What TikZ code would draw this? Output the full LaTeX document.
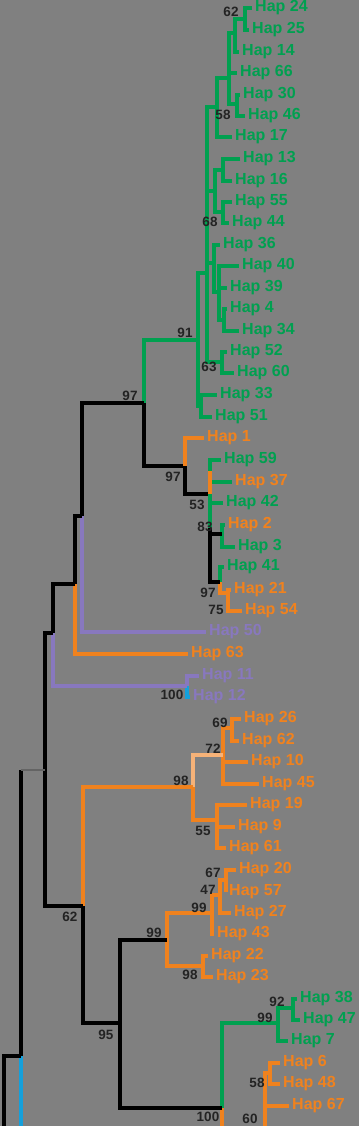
\documentclass[tikz,border=0pt]{standalone}
\usepackage{fontspec}
\setmainfont{Liberation Sans}
\definecolor{bgc}{RGB}{128,128,128}
\definecolor{cg}{RGB}{0,160,80}
\definecolor{co}{RGB}{240,130,30}
\definecolor{clo}{RGB}{246,178,120}
\definecolor{cp}{RGB}{136,120,190}
\definecolor{cb}{RGB}{20,160,220}
\definecolor{cd}{RGB}{35,35,35}
\definecolor{cgr}{RGB}{100,100,100}
\tikzset{
  br/.style={line width=3.4pt},
  gl/.style={br,draw=cg}, ol/.style={br,draw=co}, lol/.style={br,draw=clo},
  pl/.style={br,draw=cp}, bl/.style={br,draw=cb}, kl/.style={br,draw=black},
  lab/.style={anchor=west,inner sep=0pt,font=\fontsize{16}{16}\selectfont\bfseries},
  lg/.style={lab,text=cg}, lo/.style={lab,text=co}, lp/.style={lab,text=cp},
  bs/.style={inner sep=0pt,font=\fontsize{13.5}{13.5}\selectfont\bfseries,text=cd}
}
\newcommand\tedge[3]{\draw[#1] (#2) |- (#3);}
\newcommand\ledge[3]{\draw[#1] (#2) |- ([xshift=-3pt]#3.west);}
\begin{document}
\begin{tikzpicture}[x=1pt,y=-1pt]
\fill[bgc] (0,0) rectangle (359,1126);
\useasboundingbox (0,0) rectangle (359,1126);
% ---------- leaves ----------
\node[lg] (h24) at (255,8) {Hap 24};
\node[lg] (h25) at (252,30) {Hap 25};
\node[lg] (h14) at (242,52) {Hap 14};
\node[lg] (h66) at (240,73) {Hap 66};
\node[lg] (h30) at (243,95) {Hap 30};
\node[lg] (h46) at (248,116) {Hap 46};
\node[lg] (h17) at (235,137) {Hap 17};
\node[lg] (h13) at (243,159) {Hap 13};
\node[lg] (h16) at (235,181) {Hap 16};
\node[lg] (h55) at (235,202) {Hap 55};
\node[lg] (h44) at (232,223) {Hap 44};
\node[lg] (h36) at (223,245) {Hap 36};
\node[lg] (h40) at (242,266) {Hap 40};
\node[lg] (h39) at (230,288) {Hap 39};
\node[lg] (h4) at (230,309) {Hap 4};
\node[lg] (h34) at (242,331) {Hap 34};
\node[lg] (h52) at (230,352) {Hap 52};
\node[lg] (h60) at (237,373) {Hap 60};
\node[lg] (h33) at (220,395) {Hap 33};
\node[lg] (h51) at (215,417) {Hap 51};
\node[lo] (h1) at (207,438) {Hap 1};
\node[lg] (h59) at (224,460) {Hap 59};
\node[lo] (h37) at (235,482) {Hap 37};
\node[lg] (h42) at (226,503) {Hap 42};
\node[lo] (h2) at (228,525) {Hap 2};
\node[lg] (h3) at (238,547) {Hap 3};
\node[lg] (h41) at (227,567) {Hap 41};
\node[lo] (h21) at (234,590) {Hap 21};
\node[lo] (h54) at (245,611) {Hap 54};
\node[lp] (h50) at (209,632) {Hap 50};
\node[lo] (h63) at (191,654) {Hap 63};
\node[lp] (h11) at (202,676) {Hap 11};
\node[lp] (h12) at (193,697) {Hap 12};
\node[lo] (h26) at (244,719) {Hap 26};
\node[lo] (h62) at (242,741) {Hap 62};
\node[lo] (h10) at (251,762) {Hap 10};
\node[lo] (h45) at (262,784) {Hap 45};
\node[lo] (h19) at (250,805) {Hap 19};
\node[lo] (h9) at (238,827) {Hap 9};
\node[lo] (h61) at (229,848) {Hap 61};
\node[lo] (h20) at (239,870) {Hap 20};
\node[lo] (h57) at (229,892) {Hap 57};
\node[lo] (h27) at (234,913) {Hap 27};
\node[lo] (h43) at (217,934) {Hap 43};
\node[lo] (h22) at (211,956) {Hap 22};
\node[lo] (h23) at (216,977) {Hap 23};
\node[lg] (h38) at (300,999) {Hap 38};
\node[lg] (h47) at (303,1020) {Hap 47};
\node[lg] (h7) at (291,1041) {Hap 7};
\node[lo] (h6) at (283,1063) {Hap 6};
\node[lo] (h48) at (283,1084) {Hap 48};
\node[lo] (h67) at (292,1106) {Hap 67};
% ---------- internal nodes ----------
\coordinate (n245) at (245,19);
\coordinate (n235) at (235,33);
\coordinate (n237) at (237,104);
\coordinate (n230) at (229,78);
\coordinate (n217) at (217,107);
\coordinate (n208) at (207,273);
\coordinate (n215) at (215,191);
\coordinate (n223a) at (223,170);
\coordinate (n223b) at (223,212);
\coordinate (m1) at (214,263);
\coordinate (m2) at (219,292);
\coordinate (m3) at (224,320);
\coordinate (n222) at (222,362);
\coordinate (n198) at (198,340);
\coordinate (n201) at (201,406);
\coordinate (n144) at (144,403);
\coordinate (n185) at (185,466);
\coordinate (n210) at (210,494);
\coordinate (nP) at (210,471);
\coordinate (nR) at (210,528);
\coordinate (nQ) at (222,534);
\coordinate (nS) at (220,582);
\coordinate (nT) at (228,593);
\coordinate (n82) at (82,516);
\coordinate (n75) at (75,584);
\coordinate (n53) at (53,633);
\coordinate (n187) at (187,686);
\coordinate (n45) at (45,770);
\coordinate (n83) at (83,906);
\coordinate (n193) at (193,787);
\coordinate (n223) at (223,755);
\coordinate (n232) at (232,728);
\coordinate (n217c) at (217,820);
\coordinate (n120) at (120,1023);
\coordinate (n167) at (167,940);
\coordinate (n212) at (212,913);
\coordinate (n220) at (220,895);
\coordinate (n226) at (226,880);
\coordinate (n203) at (203,966);
\coordinate (n222b) at (222,1108);
\coordinate (o222) at (222,1126);
\coordinate (n278) at (278,1023);
\coordinate (n293) at (293,1008);
\coordinate (n265) at (265,1126);
\coordinate (n270) at (270,1073);
\coordinate (n21) at (21,1056);
\coordinate (r0) at (4,1126);
\coordinate (b21) at (21,1126);
% ---------- edges ----------
\ledge{gl}{n245}{h24} \ledge{gl}{n245}{h25}
\tedge{gl}{n235}{n245} \ledge{gl}{n235}{h14}
\ledge{gl}{n237}{h30} \ledge{gl}{n237}{h46}
\tedge{gl}{n230}{n235} \ledge{gl}{n230}{h66} \tedge{gl}{n230}{n237}
\tedge{gl}{n217}{n230} \ledge{gl}{n217}{h17}
\ledge{gl}{n223a}{h13} \ledge{gl}{n223a}{h16}
\ledge{gl}{n223b}{h55} \ledge{gl}{n223b}{h44}
\tedge{gl}{n215}{n223a} \tedge{gl}{n215}{n223b}
\ledge{gl}{m3}{h4} \ledge{gl}{m3}{h34}
\ledge{gl}{m2}{h40} \ledge{gl}{m2}{h39} \tedge{gl}{m2}{m3}
\ledge{gl}{m1}{h36} \tedge{gl}{m1}{m2}
\ledge{gl}{n222}{h52} \ledge{gl}{n222}{h60}
\tedge{gl}{n208}{n217} \tedge{gl}{n208}{n215} \tedge{gl}{n208}{m1} \tedge{gl}{n208}{n222}
\ledge{gl}{n201}{h33} \ledge{gl}{n201}{h51}
\tedge{gl}{n198}{n208} \tedge{gl}{n198}{n201}
\tedge{gl}{n144}{n198} \tedge{kl}{n144}{n185}
\ledge{ol}{n185}{h1} \tedge{kl}{n185}{n210}
\ledge{gl}{nP}{h59} \ledge{gl}{nP}{h37}
\tedge{ol}{n210}{nP} \ledge{gl}{n210}{h42} \tedge{gl}{n210}{nR}
\ledge{gl}{nQ}{h2} \ledge{gl}{nQ}{h3}
\ledge{ol}{nT}{h21} \ledge{ol}{nT}{h54}
\ledge{gl}{nS}{h41} \tedge{ol}{nS}{nT}
\tedge{kl}{nR}{nQ} \tedge{kl}{nR}{nS}
\tedge{kl}{n82}{n144} \ledge{pl}{n82}{h50}
\tedge{kl}{n75}{n82} \ledge{ol}{n75}{h63}
\ledge{pl}{n187}{h11} \ledge{bl}{n187}{h12}
\tedge{kl}{n53}{n75} \tedge{pl}{n53}{n187}
\ledge{ol}{n232}{h26} \ledge{ol}{n232}{h62}
\tedge{ol}{n223}{n232} \ledge{ol}{n223}{h10} \ledge{ol}{n223}{h45}
\ledge{ol}{n217c}{h19} \ledge{ol}{n217c}{h9} \ledge{ol}{n217c}{h61}
\tedge{lol}{n193}{n223} \tedge{ol}{n193}{n217c}
\ledge{ol}{n226}{h20} \ledge{ol}{n226}{h57}
\tedge{ol}{n220}{n226} \ledge{ol}{n220}{h27}
\tedge{ol}{n212}{n220} \ledge{ol}{n212}{h43}
\ledge{ol}{n203}{h22} \ledge{ol}{n203}{h23}
\tedge{ol}{n167}{n212} \tedge{ol}{n167}{n203}
\ledge{gl}{n293}{h38} \ledge{gl}{n293}{h47}
\tedge{gl}{n278}{n293} \ledge{gl}{n278}{h7}
\tedge{gl}{n222b}{n278} \draw[ol] (n222b) -- (o222);
\ledge{ol}{n270}{h6} \ledge{ol}{n270}{h48}
\tedge{ol}{n265}{n270} \ledge{ol}{n265}{h67}
\tedge{kl}{n120}{n167} \tedge{kl}{n120}{n222b}
\tedge{ol}{n83}{n193} \tedge{kl}{n83}{n120}
\tedge{kl}{n45}{n53} \tedge{kl}{n45}{n83}
\draw[kl] (n21) -- (n21 |- n45);
\draw[line width=2pt,draw=cgr] (n21 |- n45) -- (n45);
\draw[bl] (n21) -- (b21);
\tedge{kl}{r0}{n21}
% ---------- support values ----------
\node[bs] (s1) at (231,12) {62};
\node[bs] (s2) at (223,115) {58};
\node[bs] (s3) at (210,222) {68};
\node[bs] (s4) at (185,333) {91};
\node[bs] (s5) at (209,367) {63};
\node[bs] (s6) at (130,396) {97};
\node[bs] (s7) at (173,477) {97};
\node[bs] (s8) at (197,505) {53};
\node[bs] (s9) at (205,527) {83};
\node[bs] (s10) at (208,593) {97};
\node[bs] (s11) at (216,610) {75};
\node[bs] (s12) at (172,695) {100};
\node[bs] (s13) at (220,723) {69};
\node[bs] (s14) at (213,749) {72};
\node[bs] (s15) at (181,781) {98};
\node[bs] (s16) at (203,831) {55};
\node[bs] (s17) at (213,873) {67};
\node[bs] (s18) at (208,890) {47};
\node[bs] (s19) at (199,908) {99};
\node[bs] (s20) at (154,933) {99};
\node[bs] (s21) at (190,975) {98};
\node[bs] (s22) at (70,917) {62};
\node[bs] (s23) at (106,1035) {95};
\node[bs] (s24) at (277,1002) {92};
\node[bs] (s25) at (265,1018) {99};
\node[bs] (s26) at (257,1083) {58};
\node[bs] (s27) at (208,1117) {100};
\node[bs] (s28) at (250,1119) {60};
\end{tikzpicture}
\end{document}
